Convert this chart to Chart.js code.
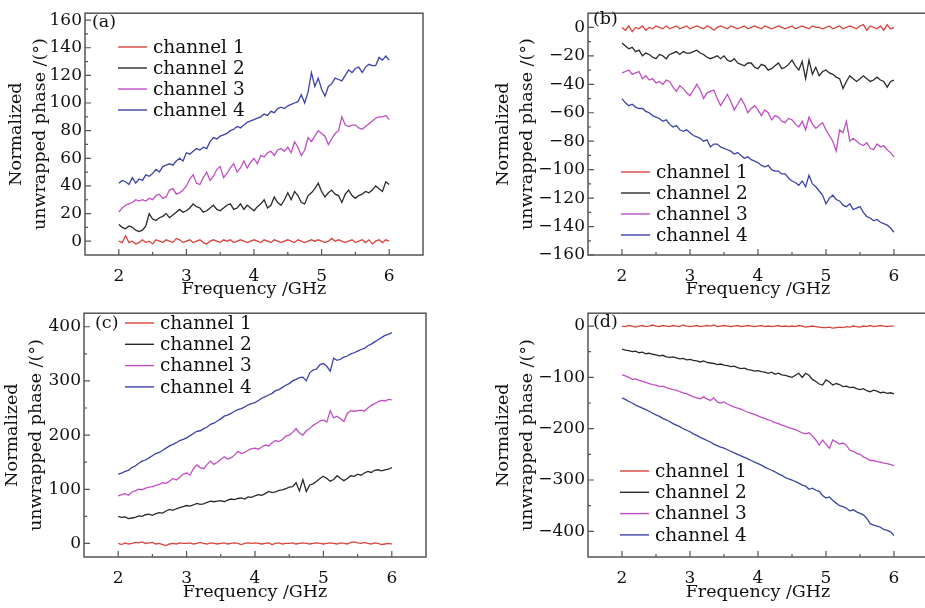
<!DOCTYPE html>
<html>
<head>
<meta charset="utf-8">
<script src="https://cdn.jsdelivr.net/npm/chart.js@4.4.0/dist/chart.umd.min.js"></script>
<style>
    html, body { margin: 0; padding: 0; background: #fff; width: 925px; height: 608px; overflow: hidden; }
    canvas { position: absolute; }
</style>
</head>
<body>
<canvas id="chartA" width="460" height="300" style="left:0px;top:0px"></canvas>
<canvas id="chartB" width="470" height="300" style="left:460px;top:0px"></canvas>
<canvas id="chartC" width="460" height="303" style="left:0px;top:300px"></canvas>
<canvas id="chartD" width="470" height="303" style="left:460px;top:300px"></canvas>
<script>
// Frequency axis (GHz)
const freq = [
    2.00, 2.05, 2.10, 2.15, 2.20, 2.25, 2.30, 2.35, 2.40, 2.45,
    2.50, 2.55, 2.60, 2.65, 2.70, 2.75, 2.80, 2.85, 2.90, 2.95,
    3.00, 3.05, 3.10, 3.15, 3.20, 3.25, 3.30, 3.35, 3.40, 3.45,
    3.50, 3.55, 3.60, 3.65, 3.70, 3.75, 3.80, 3.85, 3.90, 3.95,
    4.00, 4.05, 4.10, 4.15, 4.20, 4.25, 4.30, 4.35, 4.40, 4.45,
    4.50, 4.55, 4.60, 4.65, 4.70, 4.75, 4.80, 4.85, 4.90, 4.95,
    5.00, 5.05, 5.10, 5.15, 5.20, 5.25, 5.30, 5.35, 5.40, 5.45,
    5.50, 5.55, 5.60, 5.65, 5.70, 5.75, 5.80, 5.85, 5.90, 5.95,
    6.00
];

const channelNames = ['channel 1', 'channel 2', 'channel 3', 'channel 4'];

// Tick labels
const xTicks = [2, 3, 4, 5, 6];
const yTicksA = [0, 20, 40, 60, 80, 100, 120, 140, 160];
const yTicksB = [0, -20, -40, -60, -80, -100, -120, -140, -160];
const yTicksC = [0, 100, 200, 300, 400];
const yTicksD = [0, -100, -200, -300, -400];

// Panel (a)
const a1 = [
    0, -1, 4, -1, 0, -2, -1, 1, -1, 0,
    -2, 1, 0, -1, 1, 0, -1, 2, 1, -1,
    0, 1, -1, 0, 1, -1, -2, 0, 1, 0,
    -1, 1, 0, 1, -1, 0, 1, 0, -1, 0,
    1, 0, -1, 1, 0, -1, 1, 0, -1, 0,
    1, 0, -1, 1, 0, -1, 0, 1, 0, 1,
    0, -1, 0, 2, 0, 1, 0, -1, 0, 1,
    -1, 0, 1, -1, 1, -2, 0, 1, -1, 1,
    0
];
const a2 = [
    12, 10, 9, 11, 10, 8, 7, 8, 11, 20,
    16, 15, 17, 18, 20, 17, 19, 21, 23, 21,
    22, 24, 27, 25, 24, 21, 22, 24, 26, 23,
    22, 24, 26, 27, 23, 24, 27, 23, 26, 24,
    22, 25, 27, 30, 24, 26, 32, 28, 26, 30,
    35, 30, 36, 33, 28, 27, 33, 35, 38, 42,
    36, 32, 35, 37, 34, 33, 28, 34, 37, 33,
    31, 33, 34, 36, 35, 37, 40, 38, 36, 43,
    41
];
const a3 = [
    21, 24, 26, 27, 28, 30, 29, 30, 29, 31,
    30, 33, 34, 31, 32, 37, 38, 34, 35, 37,
    40, 45, 48, 42, 41, 46, 50, 44, 47, 52,
    54, 46, 49, 53, 56, 50, 53, 58, 53, 57,
    60, 56, 62, 61, 64, 65, 62, 66, 67, 65,
    68, 64, 72, 68, 62, 66, 75, 72, 76, 80,
    78, 76, 70, 74, 78, 80, 90, 84, 83, 84,
    84, 82, 81, 83, 85, 87, 89, 90, 90, 91,
    88
];
const a4 = [
    42, 44, 43, 41, 46, 42, 45, 44, 48, 47,
    49, 52, 50, 54, 55, 56, 55, 58, 60, 58,
    64, 63, 65, 67, 66, 68, 67, 72, 75, 74,
    76, 77, 78, 80, 81, 83, 82, 84, 86, 87,
    88, 89, 90, 92, 91, 94, 93, 96, 97, 96,
    98, 99, 100, 101, 106, 100, 108, 122, 112, 118,
    110, 105, 112, 114, 118, 117, 116, 120, 124, 122,
    125, 126, 122, 126, 128, 127, 127, 133, 131, 134,
    131
];

// Panel (b)
const b1 = [
    0, -2, 1, -3, 0, -1, 1, -2, 0, -1,
    1, 0, -1, 1, -1, 0, 1, -1, 0, 1,
    -1, 0, 1, 0, -1, 1, 0, -2, 0, 1,
    0, -1, 1, 0, -1, 0, 1, -1, 0, 1,
    0, -1, 1, 0, -1, 0, 1, 0, -1, 0,
    1, -1, 0, 1, 0, -1, 1, 0, 0, -1,
    0, 1, -1, 0, 1, -1, 0, 1, 0, -1,
    1, 2, -2, 1, 0, -1, 1, -2, 2, -1,
    0
];
const b2 = [
    -11, -13, -15, -14, -17, -16, -20, -18, -19, -21,
    -22, -19, -20, -22, -19, -18, -17, -19, -17, -18,
    -18, -17, -16, -18, -19, -21, -22, -21, -20, -22,
    -20, -23, -24, -22, -25, -26, -27, -25, -25, -28,
    -29, -26, -27, -30, -29, -27, -25, -29, -28, -26,
    -23, -27, -30, -24, -36, -23, -33, -28, -34, -31,
    -30, -32, -33, -35, -36, -43, -38, -34, -36, -38,
    -36, -34, -36, -38, -37, -35, -37, -38, -42, -38,
    -37
];
const b3 = [
    -32, -31, -30, -33, -32, -31, -36, -34, -37, -36,
    -39, -38, -40, -37, -38, -42, -45, -41, -43, -46,
    -48, -44, -40, -44, -50, -46, -45, -44, -50, -55,
    -51, -47, -52, -58, -54, -50, -54, -60, -57, -55,
    -58, -62, -58, -60, -65, -62, -63, -66, -67, -64,
    -65, -68, -70, -66, -72, -63, -68, -71, -69, -67,
    -72, -76, -80, -87, -72, -74, -66, -80, -78, -80,
    -82, -83, -81, -85, -86, -82, -84, -83, -86, -88,
    -91
];
const b4 = [
    -50, -53, -55, -54, -56, -57, -57, -59, -60, -62,
    -63, -64, -66, -65, -68, -70, -69, -72, -73, -72,
    -74, -76, -77, -78, -80, -79, -84, -82, -82, -84,
    -85, -86, -87, -89, -88, -90, -92, -91, -93, -94,
    -95, -97, -98, -97, -100, -101, -101, -103, -103, -106,
    -108, -109, -111, -108, -112, -104, -110, -112, -115, -118,
    -124, -120, -118, -121, -122, -125, -126, -124, -128, -127,
    -126, -130, -133, -134, -136, -135, -137, -138, -139, -141,
    -144
];

// Panel (c)
const c1 = [
    0, -2, 1, -1, 0, 2, 1, 3, 0, 1,
    2, -1, 0, -2, -4, -1, 0, -1, 1, 0,
    0, 1, -1, 0, 2, 0, -1, 1, 0, -1,
    0, 1, -1, 0, 1, 0, -2, 0, 1, 0,
    1, 0, -1, 0, 1, -2, 0, 1, -1, 0,
    0, 1, -1, 0, 1, 0, -1, 0, 1, 0,
    -1, 0, 1, 0, -1, 1, 0, -1, 2, 3,
    1, 0, 2, 0, -1, 1, 0, -2, -1, 0,
    -1
];
const c2 = [
    50, 48, 49, 46, 47, 48, 51, 50, 53, 54,
    52, 55, 57, 56, 60, 63, 61, 64, 66, 68,
    70, 69, 71, 74, 72, 73, 76, 78, 77, 78,
    79, 77, 80, 82, 81, 83, 84, 82, 86, 85,
    88, 90, 89, 92, 96, 94, 95, 98, 99, 101,
    104, 105, 112, 97, 118, 96, 108, 110, 115, 120,
    124, 120, 115, 118, 125, 120, 116, 120, 125, 124,
    128, 126, 130, 133, 131, 135, 136, 134, 136, 137,
    140
];
const c3 = [
    88, 90, 92, 89, 95, 97, 100, 99, 102, 104,
    105, 107, 109, 112, 111, 115, 120, 117, 122, 128,
    130, 126, 138, 145, 140, 138, 146, 152, 146, 150,
    155, 160, 156, 158, 163, 170, 166, 168, 172, 175,
    176, 174, 178, 182, 180, 186, 190, 188, 192, 198,
    200, 205, 212, 204, 200, 208, 212, 218, 222, 226,
    228, 224, 245, 232, 235, 230, 225, 240, 245, 244,
    245, 246, 244, 250, 255, 258, 262, 264, 263, 266,
    265
];
const c4 = [
    128, 130, 133, 135, 140, 143, 148, 152, 154, 158,
    162, 166, 168, 172, 176, 180, 183, 186, 190, 192,
    195, 199, 203, 207, 208, 212, 215, 220, 222, 226,
    230, 235, 237, 240, 244, 247, 249, 252, 256, 258,
    260, 264, 268, 271, 274, 277, 282, 284, 288, 292,
    295, 300, 303, 306, 307, 300, 315, 320, 322, 330,
    332, 327, 318, 342, 338, 340, 344, 346, 350, 352,
    355, 358, 360, 365, 368, 372, 376, 380, 384, 386,
    389
];

// Panel (d)
const d1 = [
    0, -1, 1, 0, -2, 0, 1, -1, 0, 2,
    0, -1, 1, 0, -1, 1, 0, -1, 2, 0,
    -1, 0, 1, -1, 0, 1, 0, 2, -1, 0,
    1, 0, -1, 0, 1, -1, 0, 1, 0, -1,
    0, 1, -1, 0, -1, 0, 1, -1, 0, -1,
    0, -1, 1, 0, -2, -1, 0, -1, -2, -3,
    -3, -2, -4, -3, -2, -3, -1, -2, 0, -1,
    -2, 0, -1, 1, -1, 0, 1, 0, -1, 0,
    0
];
const d2 = [
    -45, -47, -48, -50, -49, -52, -51, -54, -53, -55,
    -56, -58, -57, -60, -61, -60, -62, -64, -63, -66,
    -65, -67, -68, -70, -68, -71, -72, -73, -75, -74,
    -76, -77, -79, -78, -81, -83, -82, -85, -86, -88,
    -87, -89, -90, -92, -90, -94, -92, -95, -96, -98,
    -100, -96, -92, -100, -92, -96, -104, -108, -113, -115,
    -105, -109, -115, -112, -114, -118, -117, -120, -119, -122,
    -124, -122, -126, -128, -125, -127, -130, -129, -131, -130,
    -132
];
const d3 = [
    -95, -97, -100, -104, -103, -106, -108, -110, -112, -114,
    -115, -118, -117, -120, -122, -124, -125, -128, -130, -132,
    -135, -138, -140, -142, -138, -142, -145, -140, -148, -150,
    -148, -152, -155, -158, -160, -162, -165, -168, -170, -172,
    -175, -178, -180, -183, -185, -188, -190, -193, -195, -198,
    -200, -202, -205, -208, -210, -208, -214, -222, -232, -222,
    -230, -238, -222, -226, -230, -228, -232, -242, -244, -248,
    -250, -255, -258, -262, -262, -264, -265, -267, -268, -270,
    -272
];
const d4 = [
    -140, -143, -147, -150, -154, -157, -160, -163, -166, -170,
    -173, -176, -180, -183, -186, -190, -193, -196, -200, -203,
    -206, -210, -213, -217, -220, -223, -226, -230, -233, -236,
    -238, -241, -244, -247, -250, -253, -256, -259, -262, -265,
    -268, -271, -275, -278, -281, -284, -288, -291, -295, -298,
    -300, -303, -306, -310, -312, -318, -316, -320, -322, -330,
    -335, -333, -340, -345, -350, -352, -355, -360, -358, -362,
    -365, -368, -375, -385, -388, -390, -392, -396, -398, -401,
    -408
];

const lineColors = ['#d8453f', '#2a2a2a', '#c04ec4', '#3b43a8'];
const serif = '"DejaVu Serif", serif';

// Frame, inward tick marks, in-plot legend and panel letter
const panelDecor = {
    id: 'panelDecor',
    afterDraw(chart, args, opts) {
        const ctx = chart.ctx;
        const area = chart.chartArea;
        const xs = chart.scales.x;
        const ys = chart.scales.y;

        ctx.save();
        ctx.strokeStyle = '#555';
        ctx.lineWidth = 1.2;

        // inward ticks on x
        const xv = xs.ticks.map(t => t.value);
        ctx.beginPath();
        xv.forEach((v, i) => {
            const px = xs.getPixelForValue(v);
            ctx.moveTo(px, area.bottom);
            ctx.lineTo(px, area.bottom - 6);
            if (i < xv.length - 1) {
                const mx = xs.getPixelForValue((v + xv[i + 1]) / 2);
                ctx.moveTo(mx, area.bottom);
                ctx.lineTo(mx, area.bottom - 3);
            }
        });
        // inward ticks on y
        const yv = ys.ticks.map(t => t.value);
        yv.forEach((v, i) => {
            const py = ys.getPixelForValue(v);
            ctx.moveTo(area.left, py);
            ctx.lineTo(area.left + 6, py);
            if (i < yv.length - 1) {
                const my = ys.getPixelForValue((v + yv[i + 1]) / 2);
                ctx.moveTo(area.left, my);
                ctx.lineTo(area.left + 3, my);
            }
        });
        ctx.stroke();

        // frame
        ctx.lineWidth = 1.5;
        ctx.strokeRect(area.left, area.top, area.right - area.left, area.bottom - area.top);

        // panel letter
        ctx.fillStyle = '#111';
        ctx.font = '17.5px ' + serif;
        ctx.textBaseline = 'middle';
        ctx.textAlign = 'left';
        ctx.fillText(opts.letter, opts.letterX, opts.letterY);

        // legend
        ctx.font = '18.5px ' + serif;
        chart.data.datasets.forEach((ds, i) => {
            const y = opts.legendY + i * opts.rowH;
            ctx.strokeStyle = ds.borderColor;
            ctx.lineWidth = 1.4;
            ctx.beginPath();
            ctx.moveTo(opts.legendX, y);
            ctx.lineTo(opts.legendX + 29, y);
            ctx.stroke();
            ctx.fillStyle = '#111';
            ctx.fillText(ds.label, opts.legendX + 35, y + 1);
        });
        ctx.restore();
    }
};

function makePanel(id, series, yTicks, yMin, yMax, layout) {
    const ctx = document.getElementById(id);
    const datasets = series.map((vals, i) => ({
        label: channelNames[i],
        data: freq.map((f, k) => ({ x: f, y: vals[k] })),
        borderColor: lineColors[i],
        borderWidth: 1.3,
        pointRadius: 0,
        tension: 0,
        fill: false
    }));

    new Chart(ctx, {
        type: 'line',
        data: { datasets: datasets },
        plugins: [panelDecor],
        options: {
            responsive: false,
            animation: false,
            devicePixelRatio: 1,
            layout: {
                padding: { left: 0, right: layout.padRight, top: layout.padTop, bottom: 0 }
            },
            plugins: {
                legend: { display: false },
                tooltip: { enabled: false },
                panelDecor: layout.decor
            },
            scales: {
                x: {
                    type: 'linear',
                    min: 1.5,
                    max: 6.5,
                    afterBuildTicks: scale => { scale.ticks = xTicks.map(v => ({ value: v })); },
                    afterFit: scale => { scale.height = layout.xHeight; },
                    grid: { display: false, drawTicks: false },
                    border: { display: false },
                    ticks: {
                        font: { family: serif, size: 17 },
                        color: '#111',
                        padding: 11,
                        maxRotation: 0
                    },
                    title: {
                        display: true,
                        text: 'Frequency /GHz',
                        font: { family: serif, size: 17.5, lineHeight: 1.2 },
                        color: '#111',
                        padding: 0
                    }
                },
                y: {
                    type: 'linear',
                    min: yMin,
                    max: yMax,
                    afterBuildTicks: scale => { scale.ticks = yTicks.map(v => ({ value: v })); },
                    afterFit: scale => { scale.width = layout.yWidth; },
                    grid: { display: false, drawTicks: false },
                    border: { display: false },
                    ticks: {
                        font: { family: serif, size: 17 },
                        color: '#111',
                        padding: 3,
                        callback: function (value) {
                            return String(value).replace('-', '\u2212');
                        }
                    },
                    title: {
                        display: true,
                        text: ['Normalized', 'unwrapped phase /(\u00b0)'],
                        font: { family: serif, size: 17.5, lineHeight: 1.4 },
                        color: '#111',
                        padding: { top: layout.titlePad, bottom: 0 }
                    }
                }
            }
        }
    });
}

document.addEventListener('DOMContentLoaded', function () {
    makePanel('chartA', [a1, a2, a3, a4], yTicksA, -10, 165, {
        padRight: 37, padTop: 6, xHeight: 45, yWidth: 85, titlePad: 4,
        decor: { letter: '(a)', letterX: 92, letterY: 22, legendX: 118, legendY: 47, rowH: 21 }
    });
    makePanel('chartB', [b1, b2, b3, b4], yTicksB, -160, 10, {
        padRight: 2, padTop: 5, xHeight: 45, yWidth: 128, titlePad: 31,
        decor: { letter: '(b)', letterX: 133, letterY: 19, legendX: 161, legendY: 172, rowH: 21 }
    });
    makePanel('chartC', [c1, c2, c3, c4], yTicksC, -25, 425, {
        padRight: 34, padTop: 7, xHeight: 46, yWidth: 84, titlePad: 0,
        decor: { letter: '(c)', letterX: 95, letterY: 23, legendX: 125, legendY: 23, rowH: 21.3 }
    });
    makePanel('chartD', [d1, d2, d3, d4], yTicksD, -450, 25, {
        padRight: 2, padTop: 9, xHeight: 46, yWidth: 128, titlePad: 31,
        decor: { letter: '(d)', letterX: 133, letterY: 22, legendX: 160, legendY: 171, rowH: 21.3 }
    });
});
</script>
</body>
</html>
